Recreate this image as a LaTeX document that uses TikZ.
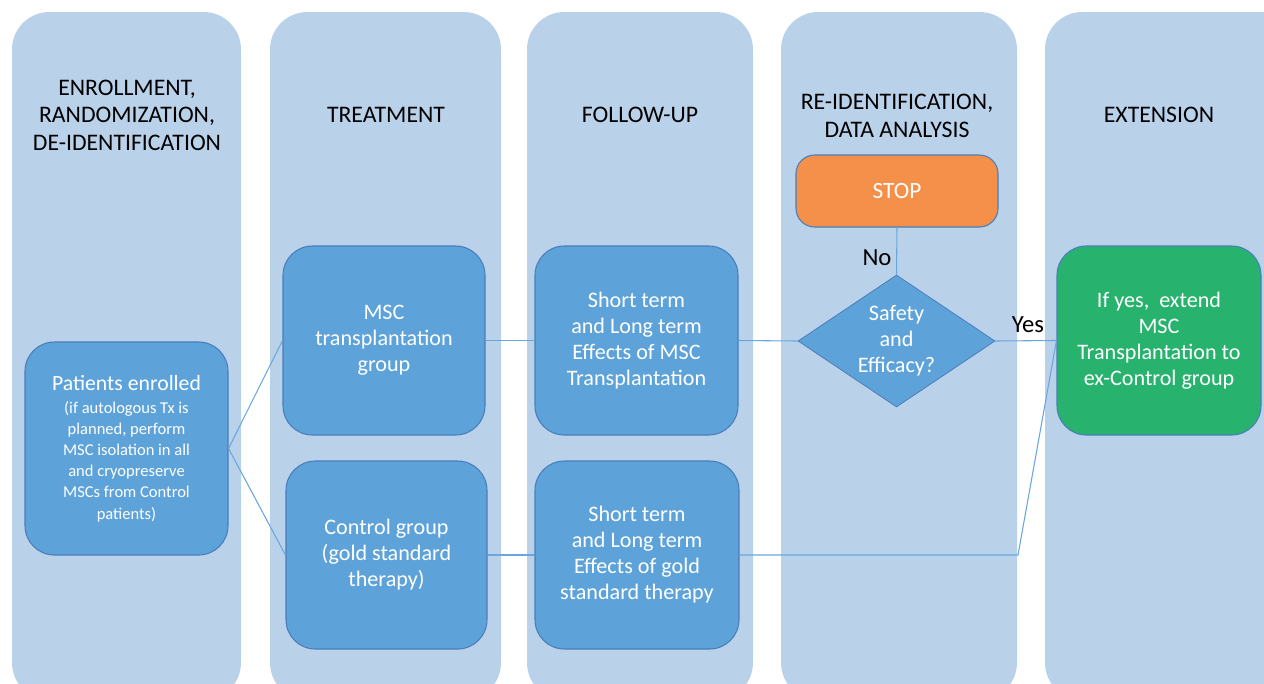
\documentclass[tikz,border=0pt]{standalone}
\usepackage{fontspec}
\setmainfont{Carlito}
\usetikzlibrary{shapes.geometric}
\definecolor{colfill}{HTML}{BAD1EA}
\definecolor{boxfill}{HTML}{5DA3DA}
\definecolor{boxline}{HTML}{4A7EBB}
\definecolor{stopfill}{HTML}{F4904A}
\definecolor{gofill}{HTML}{27B36E}
\definecolor{link}{HTML}{6AA6DD}
\tikzset{
  lane/.style={fill=colfill, rounded corners=28pt},
  head/.style={align=center, font=\fontsize{17.8}{20.6}\selectfont, text=black},
  stepbox/.style={draw=boxline, line width=0.8pt, fill=boxfill, rounded corners=22pt,
    align=center, text=white, font=\fontsize{16.6}{19.5}\selectfont, inner sep=0pt},
  decision/.style={diamond, shape aspect=1.5, draw=boxline, line width=0.6pt, fill=boxfill, inner sep=0pt,
    align=center, text=white, font=\fontsize{16.6}{19.5}\selectfont},
  tag/.style={text=black, font=\fontsize{18.5}{22}\selectfont},
  wire/.style={draw=link, line width=0.8pt}
}
\begin{document}
\begin{tikzpicture}[x=0.75pt, y=-0.75pt]
\useasboundingbox (0,0) rectangle (1264,683);
\clip (0,0) rectangle (1264,683);

% swim lanes
\fill[lane] (12,12) rectangle (241,700);
\fill[lane] (270,12) rectangle (501,700);
\fill[lane] (527,12) rectangle (753,700);
\fill[lane] (781,12) rectangle (1017,700);
\fill[lane] (1045,12) rectangle (1300,700);

% lane headings
\node[head] (h1) at (127,115) {ENROLLMENT,\\RANDOMIZATION,\\DE-IDENTIFICATION};
\node[head] (h2) at (386,115) {TREATMENT};
\node[head] (h3) at (640,115) {FOLLOW-UP};
\node[head] (h4) at (897,116) {RE-IDENTIFICATION,\\DATA ANALYSIS};
\node[head] (h5) at (1159,115) {EXTENSION};

% process steps
\node[stepbox, minimum width=203*0.75pt, minimum height=213*0.75pt] (pat) at (126.5,448.5)
  {\fontsize{16.3}{19.5}\selectfont Patients enrolled\\[-2pt]
   \parbox[t]{150pt}{\centering\fontsize{12.4}{15.8}\selectfont
     (if autologous Tx is\\ planned, perform\\ MSC isolation in all\\
     and cryopreserve\\ MSCs from Control\\ patients)}};
\node[stepbox, minimum width=202*0.75pt, minimum height=189*0.75pt] (msc) at (384,340.5)
  {MSC\\transplantation\\group};
\node[stepbox, minimum width=201*0.75pt, minimum height=188*0.75pt] (ctl) at (386.5,555)
  {Control group\\(gold standard\\therapy)};
\node[stepbox, minimum width=203*0.75pt, minimum height=189*0.75pt] (fmsc) at (636.5,340.5)
  {Short term\\and Long term\\Effects of MSC\\Transplantation};
\node[stepbox, minimum width=204*0.75pt, minimum height=188*0.75pt] (fgold) at (637,555)
  {Short term\\and Long term\\Effects of gold\\standard therapy};
\node[stepbox, fill=stopfill, rounded corners=14pt, font=\fontsize{17.5}{20}\selectfont,
  minimum width=202*0.75pt, minimum height=72*0.75pt] (stop) at (897,191)
  {STOP};
\node[decision, minimum width=197*0.75pt, minimum height=132*0.75pt] (dia) at (896.5,341)
  {Safety\\and\\Efficacy?};
\node[stepbox, fill=gofill, minimum width=204*0.75pt, minimum height=189*0.75pt] (ext) at (1159,340.5)
  {If yes,\ \ extend\\MSC\\Transplantation to\\ex-Control group};

% connectors
\coordinate (bend) at (1018,555);
\draw[wire] (pat.east) -- (msc.west);
\draw[wire] (pat.east) -- (ctl.west);
\draw[wire] (msc.east) -- (fmsc.west);
\draw[wire] (fmsc.east) -- (dia.west);
\draw[wire] (dia.east) -- (ext.west);
\draw[wire] (stop.south) -- (dia.north);
\draw[wire] (ctl.east) -- (fgold.west);
\draw[wire] (fgold.east) -- (bend) -- (ext.west);

% decision labels
\node[tag] (no) at (877,258) {No};
\node[tag] (yes) at (1028,325) {Yes};
\end{tikzpicture}
\end{document}
